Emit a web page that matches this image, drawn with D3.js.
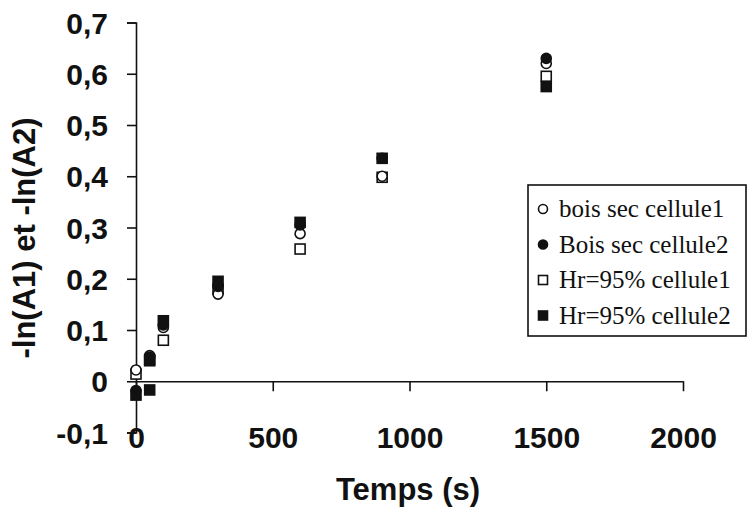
<!DOCTYPE html>
<html><head><meta charset="utf-8">
<script src="https://cdn.jsdelivr.net/npm/d3@7"></script>
<style>body{margin:0;background:#fff}svg{display:block}</style>
</head><body>
<script>
const xTicks = [0, 500, 1000, 1500, 2000];
const yTicks = [-0.1, 0, 0.1, 0.2, 0.3, 0.4, 0.5, 0.6, 0.7];
const seriesNames = ["bois sec cellule1", "Bois sec cellule2", "Hr=95% cellule1", "Hr=95% cellule2"];
const boisSec1T = [0, 50, 100, 300, 600, 900, 1500];
const boisSec1V = [0.022, 0.05, 0.105, 0.17, 0.288, 0.40, 0.62];
const boisSec2T = [0, 50, 100, 300, 600, 900, 1500];
const boisSec2V = [-0.018, 0.047, 0.11, 0.185, 0.305, 0.435, 0.63];
const hr1T = [0, 50, 100, 300, 600, 900, 1500];
const hr1V = [0.014, 0.042, 0.08, 0.18, 0.258, 0.398, 0.595];
const hr2T = [0, 50, 50, 100, 300, 600, 900, 1500];
const hr2V = [-0.027, 0.04, -0.017, 0.118, 0.195, 0.31, 0.435, 0.575];

const W = 749, H = 513;
const svg = d3.select("body").append("svg").attr("width", W).attr("height", H);
const x = d3.scaleLinear().domain([0, 2000]).range([136, 683]);
const y = d3.scaleLinear().domain([-0.1, 0.7]).range([432.5, 22.5]);
const yFmt = d => Math.abs(d) < 1e-9 ? "0" : d3.format(".1f")(d).replace(".", ",").replace("\u2212", "-");

// Y axis
const yAxis = svg.append("g").attr("transform", `translate(${x(0)},0)`)
  .call(d3.axisLeft(y).tickValues(yTicks).tickFormat(yFmt).tickSize(9).tickPadding(19));
yAxis.select(".domain").attr("stroke", "#111").attr("stroke-width", 1.6);
yAxis.selectAll(".tick line").attr("stroke", "#111").attr("stroke-width", 1.6);
yAxis.selectAll("text").attr("font-family", "Liberation Sans, Arial, sans-serif")
  .attr("font-weight", "bold").attr("font-size", 30).attr("fill", "#111").attr("dy", "0.35em");

// X axis on zero line
const xAxis = svg.append("g").attr("transform", `translate(0,${y(0)})`)
  .call(d3.axisBottom(x).tickValues(xTicks).tickFormat(d3.format("d")).tickSize(10).tickSizeOuter(0));
xAxis.select(".domain").attr("stroke", "#111").attr("stroke-width", 1.6);
xAxis.selectAll(".tick line").attr("stroke", "#111").attr("stroke-width", 1.6);
xAxis.selectAll("text").attr("font-family", "Liberation Sans, Arial, sans-serif")
  .attr("font-weight", "bold").attr("font-size", 30).attr("fill", "#111")
  .attr("y", null).attr("dy", null).attr("transform", `translate(0,${448 - y(0)})`);

// Titles
svg.append("text").attr("x", 408).attr("y", 500).attr("text-anchor", "middle")
  .attr("font-family", "Liberation Sans, Arial, sans-serif").attr("font-weight", "bold")
  .attr("font-size", 31).attr("fill", "#111").text("Temps (s)");
svg.append("text").attr("transform", "translate(35,238) rotate(-90)").attr("text-anchor", "middle")
  .attr("font-family", "Liberation Sans, Arial, sans-serif").attr("font-weight", "bold")
  .attr("font-size", 31).attr("fill", "#111").text("-ln(A1) et -ln(A2)");

// Markers
const sym = [
  {type: "circle", fill: "#fff"},
  {type: "circle", fill: "#111"},
  {type: "square", fill: "#fff"},
  {type: "square", fill: "#111"}
];
const data = [
  d3.zip(hr1T, hr1V), d3.zip(boisSec1T, boisSec1V), d3.zip(boisSec2T, boisSec2V), d3.zip(hr2T, hr2V)
];
const order = [2, 0, 1, 3];
function drawMarker(g, s, cx, cy, r) {
  if (s.type === "circle") {
    g.append("circle").attr("cx", cx).attr("cy", cy).attr("r", r)
      .attr("fill", s.fill).attr("stroke", "#111").attr("stroke-width", 1.6);
  } else {
    g.append("rect").attr("x", cx - r).attr("y", cy - r).attr("width", 2 * r).attr("height", 2 * r)
      .attr("fill", s.fill).attr("stroke", "#111").attr("stroke-width", 1.6);
  }
}
const pts = svg.append("g");
order.forEach((si, k) => {
  data[k].forEach(([t, v]) => drawMarker(pts, sym[si], x(t), y(v), 5));
});

// Legend
const lg = svg.append("g");
lg.append("rect").attr("x", 528).attr("y", 185).attr("width", 218).attr("height", 151)
  .attr("fill", "#fff").attr("stroke", "#111").attr("stroke-width", 1.6);
seriesNames.forEach((n, i) => {
  const cy = 209 + i * 35.5;
  drawMarker(lg, sym[i], 543, cy, 4.5);
  lg.append("text").attr("x", 559).attr("y", cy + 8).attr("font-family", "Liberation Serif, Times New Roman, serif")
    .attr("font-size", 25).attr("fill", "#111").text(n);
});
</script>
</body></html>
